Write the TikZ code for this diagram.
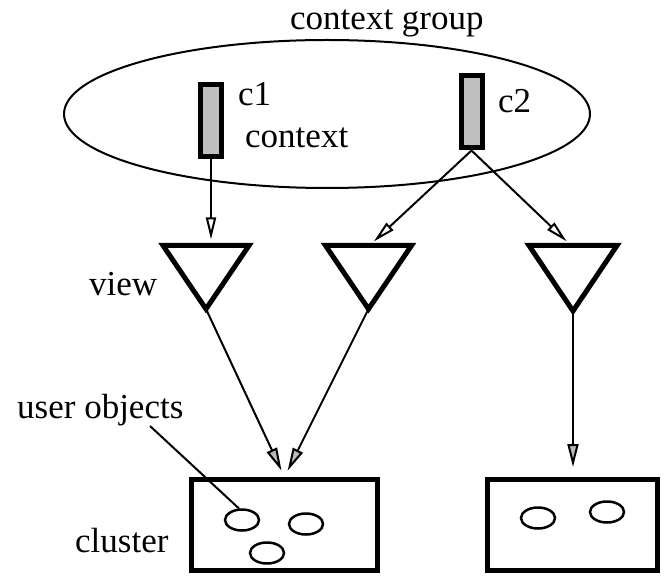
\documentclass[tikz,border=0pt]{standalone}
\usepackage{fontspec}
\setmainfont{Liberation Serif}
\usetikzlibrary{arrows.meta,shapes.geometric}
\begin{document}
\begin{tikzpicture}[x=1pt,y=-1pt,
  lbl/.style={inner sep=0pt, font=\fontsize{35}{40}\selectfont, anchor=base west},
  ctxbox/.style={draw, line width=5pt, fill=gray!50, minimum width=21pt,
    minimum height=72pt, inner sep=0pt},
  clusterbox/.style={draw, line width=5pt, inner sep=0pt, minimum height=91pt},
  obj/.style={draw, ellipse, line width=2.5pt, minimum width=34pt,
    minimum height=21pt, inner sep=0pt},
  viewtri/.style={draw, line width=5pt, line join=miter},
  openarrow/.style={line width=2pt, -{Triangle[open, length=22pt, width=10pt]}},
  grayarrow/.style={line width=2pt, -{Triangle[length=23pt, width=11pt, fill=gray!55]}},
  pointer/.style={line width=2pt}
]
\useasboundingbox (0,0) rectangle (666,577);

% context group
\node[draw, ellipse, line width=2pt, minimum width=526pt, minimum height=148pt,
  inner sep=0pt] (grp) at (327,114) {};
\node[lbl] (grplbl) at (290,30) {context group};

% contexts
\node[ctxbox] (c1) at (211,120.5) {};
\node[ctxbox] (c2) at (471.5,112) {};
\node[lbl] (c1lbl) at (238,106) {c1};
\node[lbl] (c2lbl) at (498,113) {c2};
\node[lbl] (ctxlbl) at (245,148) {context};

% views
\coordinate (t1l) at (163,245.5);
\coordinate (t1r) at (249,245.5);
\coordinate (t1a) at (206,309);
\coordinate (t1top) at (206,245.5);
\coordinate (t2l) at (325.5,245.5);
\coordinate (t2r) at (411.5,245.5);
\coordinate (t2a) at (368.5,309);
\coordinate (t2top) at (369.5,245.5);
\coordinate (t3l) at (529,245.5);
\coordinate (t3r) at (617,245.5);
\coordinate (t3a) at (573,311);
\coordinate (t3top) at (571,245.5);
\draw[viewtri] (t1l) -- (t1r) -- (t1a) -- cycle;
\draw[viewtri] (t2l) -- (t2r) -- (t2a) -- cycle;
\draw[viewtri] (t3l) -- (t3r) -- (t3a) -- cycle;
\node[lbl] (viewlbl) at (89,295) {view};

% clusters
\node[clusterbox, minimum width=186pt] (cl1) at (284.5,525) {};
\node[clusterbox, minimum width=170pt] (cl2) at (572.5,525) {};
\node[lbl] (cllbl) at (75,552) {cluster};

% user objects
\node[obj] (o1) at (242,520) {};
\node[obj] (o2) at (306,524) {};
\node[obj] (o3) at (267,553) {};
\node[obj] (o4) at (538,518) {};
\node[obj] (o5) at (607,512) {};
\node[lbl] (uolbl) at (17,418) {user objects};
\coordinate (uoptr) at (150,426);
\draw[pointer] (uoptr) -- (o1.105);

% connectors
\draw[openarrow, shorten >=6pt] (c1.south) -- (c1.south |- t1top);
\draw[openarrow, shorten >=6pt] (c2.south) -- (t2top);
\draw[openarrow, shorten >=6pt] (c2.south) -- (t3top);
\draw[grayarrow, shorten >=7pt] (t1a) -- (cl1.north);
\draw[grayarrow, shorten >=7pt] (t2a) -- (cl1.north);
\draw[grayarrow, shorten >=10pt] (t3a) -- (cl2.north -| t3a);
\end{tikzpicture}
\end{document}
